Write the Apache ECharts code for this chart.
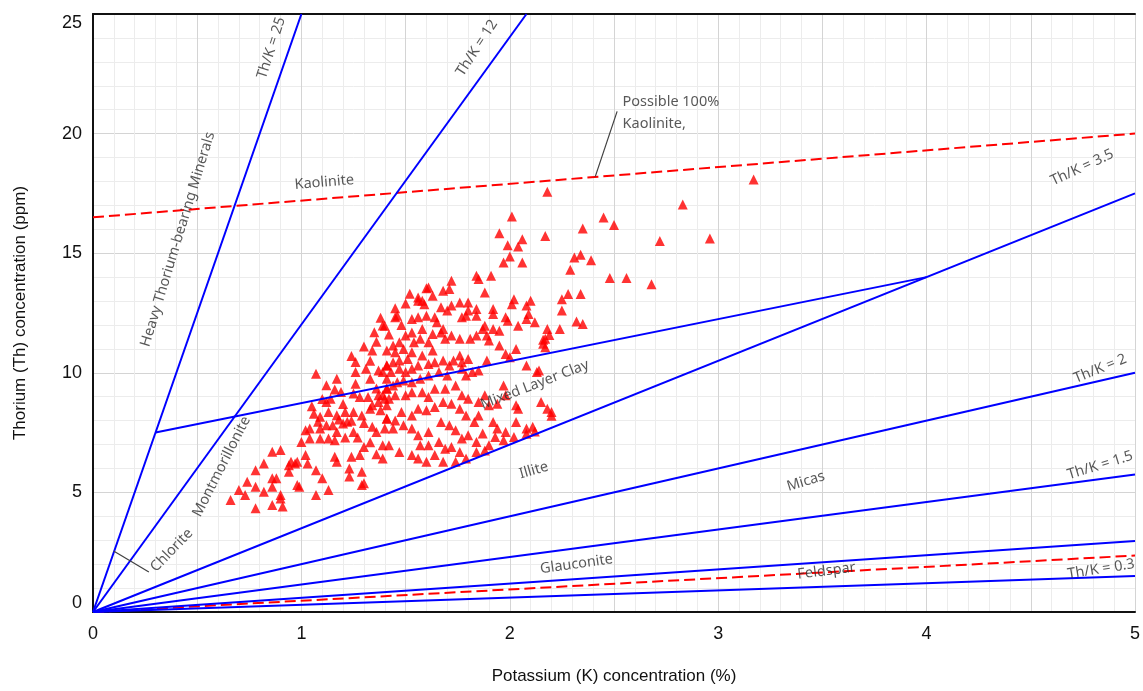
<!DOCTYPE html>
<html>
<head>
<meta charset="utf-8">
<title>Th-K crossplot</title>
<script src="https://cdn.jsdelivr.net/npm/echarts@6/dist/echarts.min.js"></script>
<style>
  html, body { margin: 0; padding: 0; background: #fff; }
  #chart { width: 1143px; height: 691px; }
</style>
</head>
<body>
<div id="chart"></div>
<script>
// Thorium vs Potassium crossplot (K in %, Th in ppm)

// samples: [K %, Th ppm]
const samples = [
  [0.66,4.68],[0.70,5.1],[0.73,4.89],[0.74,5.45],[0.78,5.93],[0.78,4.34],[0.82,6.21],[0.78,5.24],[0.82,5.03],[0.86,5.59],
  [0.86,6.7],[0.86,4.47],[0.86,5.24],[0.88,5.59],[0.90,6.77],[0.90,4.75],[0.91,4.41],[0.90,4.89],[0.94,6.14],[0.94,5.86],
  [0.95,6.28],[0.97,6.21],[0.98,6.28],[0.98,5.31],[0.99,5.24],[1.0,7.11],[1.02,6.56],[1.03,6.21],[1.02,7.6],[1.04,7.67],
  [1.06,8.29],[1.07,9.96],[1.07,5.93],[1.07,4.89],[1.09,8.16],[1.09,7.25],[1.10,5.59],[1.12,8.78],[1.12,9.48],[1.13,5.1],
  [1.14,8.92],[1.15,7.81],[1.17,9.75],[1.17,8.23],[1.16,7.18],[1.17,6.28],[1.16,6.49],[1.19,9.2],[1.2,7.88],[1.22,7.95],
  [1.23,6.0],[1.23,5.66],[1.24,6.49],[1.25,7.53],[1.25,9.13],[1.26,10.03],[1.26,9.54],[1.26,10.45],[1.28,8.99],[1.28,6.56],
  [1.29,5.31],[1.29,5.86],[1.3,5.38],[1.31,10.17],[1.32,8.99],[1.33,8.5],[1.33,9.75],[1.34,7.74],[1.34,10.93],[1.35,11.7],
  [1.36,7.53],[1.37,8.78],[1.37,10.1],[1.38,8.43],[1.39,11.98],[1.39,6.97],[1.4,8.92],[1.41,9.75],[1.41,8.09],[1.41,10.31],
  [1.41,9.34],[1.36,9.34],[1.37,9.06],[1.34,8.64],[1.41,8.64],[1.29,8.22],[1.25,8.36],[1.21,8.36],[1.13,8.36],[1.12,7.81],
  [1.17,7.53],[1.09,7.67],[1.04,7.25],[1.13,7.25],
  [1.05,8.6],[1.1,8.9],[1.16,9.3],[1.2,8.7],[1.24,8.0],[1.3,7.9],[1.08,7.95],[1.18,8.05],[1.27,7.3],[1.33,7.1],
  [1.21,7.3],[1.3,6.9],[1.36,6.6],[1.24,10.7],[1.3,11.1],[1.36,11.3],[1.33,10.5],[1.38,12.3],[1.45,12.7],[1.5,12.9],
  [1.52,13.3],[1.48,12.0],[1.42,11.6],
  [1.95,15.83],[1.99,15.33],[2.04,15.28],[2.06,15.58],[2.17,15.72],[2.0,14.86],[1.97,14.61],[2.06,14.61],[2.31,14.82],[2.29,14.31],
  [1.84,14.06],[1.85,13.92],[1.91,14.06],[1.72,13.85],[1.71,13.5],[1.68,13.43],[1.61,13.57],[1.6,13.53],[1.63,13.22],[1.56,13.15],
  [1.58,13.01],[1.56,13.01],[1.59,12.87],[1.88,13.36],[2.02,13.08],[2.01,12.87],[2.08,12.81],[2.1,13.01],[2.25,13.08],[2.28,13.29],
  [2.25,12.6],[1.76,12.94],[1.8,12.94],[1.8,12.6],[1.84,12.67],[1.84,12.39],[1.79,12.39],[1.77,12.32],[1.7,12.6],[1.72,12.81],
  [1.67,12.74],[1.64,12.32],[1.65,12.11],[1.6,12.39],[1.56,12.32],[1.53,12.25],[1.46,12.39],[1.45,12.32],[1.4,11.97],[1.92,12.67],
  [1.92,12.46],[1.98,12.32],[1.99,12.18],[2.04,11.97],[2.12,12.11],[2.09,12.46],[2.08,12.25],[2.18,11.83],[2.24,11.83],[2.19,11.58],
  [2.17,11.42],[2.16,11.21],[1.95,11.76],[1.92,11.83],[1.88,11.97],[1.87,11.83],[1.89,11.56],[1.9,11.35],[1.84,11.56],[1.81,11.42],
  [1.76,11.42],[1.72,11.56],[1.68,11.83],[1.67,11.69],[1.69,11.42],[1.63,11.62],[1.58,11.83],[1.53,11.69],[1.5,11.56],[1.47,11.28],
  [1.44,11.14],[1.41,10.93],[1.45,10.86],[1.49,11.0],[1.54,11.28],[1.57,11.42],[1.61,11.28],[1.63,10.93],[1.58,10.72],[1.53,10.86],
  [1.51,10.58],[1.47,10.51],[1.44,10.44],[1.41,10.31],[1.39,10.03],[1.43,10.03],[1.47,10.17],[1.5,10.03],[1.53,10.17],[1.56,10.31],
  [1.61,10.37],[1.64,10.44],[1.68,10.51],[1.71,10.31],[1.73,10.51],[1.76,10.72],[1.77,10.44],[1.8,10.58],[1.82,10.03],[1.85,10.1],
  [1.89,10.51],[1.95,11.14],[1.98,10.79],[2.0,10.65],[2.03,11.0],[2.08,10.31],[2.14,10.1],[1.77,10.17],[1.79,9.89],[1.7,9.89],
  [1.66,10.03],[1.61,9.89],[1.57,9.75],[1.53,9.61],[1.49,9.68],[1.46,9.61],[1.44,9.47],[1.41,9.33],[1.39,9.06],[1.42,8.92],
  [1.45,9.06],[1.5,9.06],[1.53,9.19],[1.58,9.19],[1.61,8.99],[1.64,9.33],[1.69,9.33],[1.74,9.47],[1.77,9.06],[1.8,8.92],
  [1.85,8.78],[1.88,9.06],[1.9,8.64],[1.94,8.71],[1.97,9.47],[1.98,9.06],[2.04,8.5],[2.11,7.74],[2.08,7.67],[2.18,8.5],
  [2.2,8.36],[2.15,8.78],[2.03,7.94],[1.98,7.53],[1.94,7.67],[1.92,7.94],[1.85,8.22],[1.83,7.94],[1.79,8.22],[1.76,8.5],
  [1.72,8.71],[1.68,8.78],[1.64,8.57],[1.6,8.43],[1.56,8.5],[1.53,8.22],[1.48,8.36],[1.45,8.01],[1.41,8.08],[1.4,7.67],
  [1.44,7.67],[1.49,7.81],[1.53,7.67],[1.56,7.39],[1.61,7.53],[1.67,7.94],[1.71,7.81],[1.74,7.6],[1.77,7.25],[1.8,7.39],
  [1.84,7.11],[1.87,7.46],[1.9,6.97],[1.93,7.32],[1.97,7.18],[2.02,7.32],[2.08,7.45],[1.57,6.97],[1.61,6.97],[1.66,7.11],
  [1.69,6.83],[1.72,6.9],[1.76,6.69],[1.53,6.56],[1.56,6.42],[1.6,6.28],[1.64,6.56],[1.68,6.28],[1.74,6.28],[1.47,6.69],
  [1.42,6.97],[1.39,6.42],[1.79,6.42],[1.84,6.69],[1.88,6.75],
  [2.18,17.57],[3.17,18.08],[2.83,17.04],[2.01,16.53],[2.35,16.03],[2.45,16.49],[2.5,16.18],[2.72,15.51],[2.96,15.61],[2.34,14.93],
  [2.39,14.71],[2.48,13.96],[2.56,13.96],[2.68,13.7],[2.34,13.29],[2.32,12.14],[2.35,12.04],[2.16,11.38],[2.17,11.07],[2.2,8.2],
  [2.13,10.03],[2.03,8.64],[2.12,7.55]
];

// boundary lines (K %, Th ppm)
const lineTh25 = [[0, 0], [1.0, 25]];
const lineTh12 = [[0, 0], [2.08, 25]];
const lineTh35 = [[0, 0], [5, 17.5]];
const lineTh2 = [[0, 0], [5, 10]];
const lineTh15 = [[0, 0], [5, 5.75]];
const lineGlauconite = [[0, 0], [5, 2.97]];
const lineTh03 = [[0, 0], [5, 1.51]];
const lineMixedLayer = [[0.3, 7.5], [4, 14]];
const lineKaolinite = [[0, 16.5], [5, 20.0]];   // red dashed
const lineFeldspar = [[0, 0], [5, 2.36]];       // red dashed
const leaderChlorite = [[0.099, 2.55], [0.268, 1.67]];
const leaderKaolinite = [[2.41, 18.2], [2.515, 20.93]];

// zone texts: [text, K, Th, rotation]
const zoneLabels = [
  ['Th/K = 25', 0.856, 23.58, 72],
  ['Th/K = 12', 1.842, 23.58, 57],
  ['Heavy Thorium-bearing Minerals', 0.407, 15.58, 73],
  ['Kaolinite', 1.11, 17.96, 5],
  ['Th/K = 3.5', 4.746, 18.58, 25],
  ['Mixed Layer Clay', 2.12, 9.5, 21],
  ['Illite', 2.115, 5.92, 16],
  ['Th/K = 2', 4.833, 10.17, 22],
  ['Micas', 3.421, 5.46, 17],
  ['Th/K = 1.5', 4.833, 6.13, 17],
  ['Glauconite', 2.32, 2.0, 8],
  ['Feldspar', 3.52, 1.71, 7],
  ['Th/K = 0.3', 4.837, 1.79, 9],
  ['Montmorillonite', 0.617, 6.08, 63],
  ['Chlorite', 0.378, 2.58, 46]
];
const noteText = 'Possible 100%\nKaolinite,';
const notePos = [2.541, 20.875];

const chart = echarts.init(document.getElementById('chart'));
const ink = '#2e2e2e';
const axisFont = 'Liberation Sans, Arial, sans-serif';

function guide(data, color, width, dashed) {
  return {
    type: 'line', data: data, showSymbol: false, silent: true, z: 4,
    lineStyle: { color: color, width: width, type: dashed ? [11, 5] : 'solid' }
  };
}

const option = {
  animation: false,
  backgroundColor: '#fff',
  grid: { left: 93, right: 3, top: 14, bottom: 79 },
  xAxis: [{
    type: 'value', min: 0, max: 5, interval: 0.5,
    name: 'Potassium (K) concentration (%)', nameLocation: 'middle', nameGap: 56,
    nameTextStyle: { fontFamily: axisFont, fontSize: 17, color: '#111' },
    axisLine: { lineStyle: { color: '#111', width: 2 } },
    axisTick: { show: false },
    axisLabel: {
      formatter: v => (Math.abs(v - Math.round(v)) < 1e-6 ? String(Math.round(v)) : ''),
      fontFamily: axisFont, fontSize: 18, color: '#111', margin: 13
    },
    splitLine: { show: true, lineStyle: { color: '#d4d4d4', width: 1 } },
    minorTick: { show: false, splitNumber: 5 },
    minorSplitLine: { show: true, lineStyle: { color: '#ececec', width: 1 } }
  }, {
    type: 'value', position: 'top', min: 0, max: 5,
    axisLine: { show: true, lineStyle: { color: '#111', width: 2 } },
    axisTick: { show: false }, axisLabel: { show: false }, splitLine: { show: false }
  }],
  yAxis: {
    type: 'value', min: 0, max: 25, interval: 5,
    name: 'Thorium (Th) concentration (ppm)', nameLocation: 'middle', nameGap: 64,
    nameTextStyle: { fontFamily: axisFont, fontSize: 17, color: '#111' },
    axisLine: { show: true, lineStyle: { color: '#111', width: 2 } },
    axisTick: { show: false },
    axisLabel: {
      fontFamily: axisFont, fontSize: 18, color: '#111', margin: 11,
      verticalAlignMinLabel: 'bottom', verticalAlignMaxLabel: 'top'
    },
    splitLine: { show: true, lineStyle: { color: '#d4d4d4', width: 1 } },
    minorTick: { show: false, splitNumber: 5 },
    minorSplitLine: { show: true, lineStyle: { color: '#ececec', width: 1 } }
  },
  series: [
    {
      type: 'scatter', data: samples, symbol: 'triangle', symbolSize: 10,
      itemStyle: { color: '#ff0000' }, z: 3, silent: true
    },
    guide(lineKaolinite, '#ff0000', 2, true),
    guide(lineFeldspar, '#ff0000', 2, true),
    guide(lineTh25, '#0000ff', 2, false),
    guide(lineTh12, '#0000ff', 2, false),
    guide(lineTh35, '#0000ff', 2, false),
    guide(lineTh2, '#0000ff', 2, false),
    guide(lineTh15, '#0000ff', 2, false),
    guide(lineGlauconite, '#0000ff', 2, false),
    guide(lineTh03, '#0000ff', 2, false),
    guide(lineMixedLayer, '#0000ff', 2, false),
    guide(leaderChlorite, '#404040', 1.2, false),
    guide(leaderKaolinite, '#404040', 1.2, false),
    {
      type: 'scatter', symbolSize: 0, silent: true, z: 6,
      label: {
        show: true, position: 'inside', color: ink,
        fontFamily: 'Noto Sans, Open Sans, sans-serif', fontSize: 14.5
      },
      data: zoneLabels.map(([text, k, th, rot]) => ({
        value: [k, th],
        label: { formatter: text, rotate: rot }
      })).concat([{
        value: notePos,
        label: { formatter: noteText, align: 'left', verticalAlign: 'middle', lineHeight: 22 }
      }])
    }
  ]
};

chart.setOption(option);
</script>
</body>
</html>
